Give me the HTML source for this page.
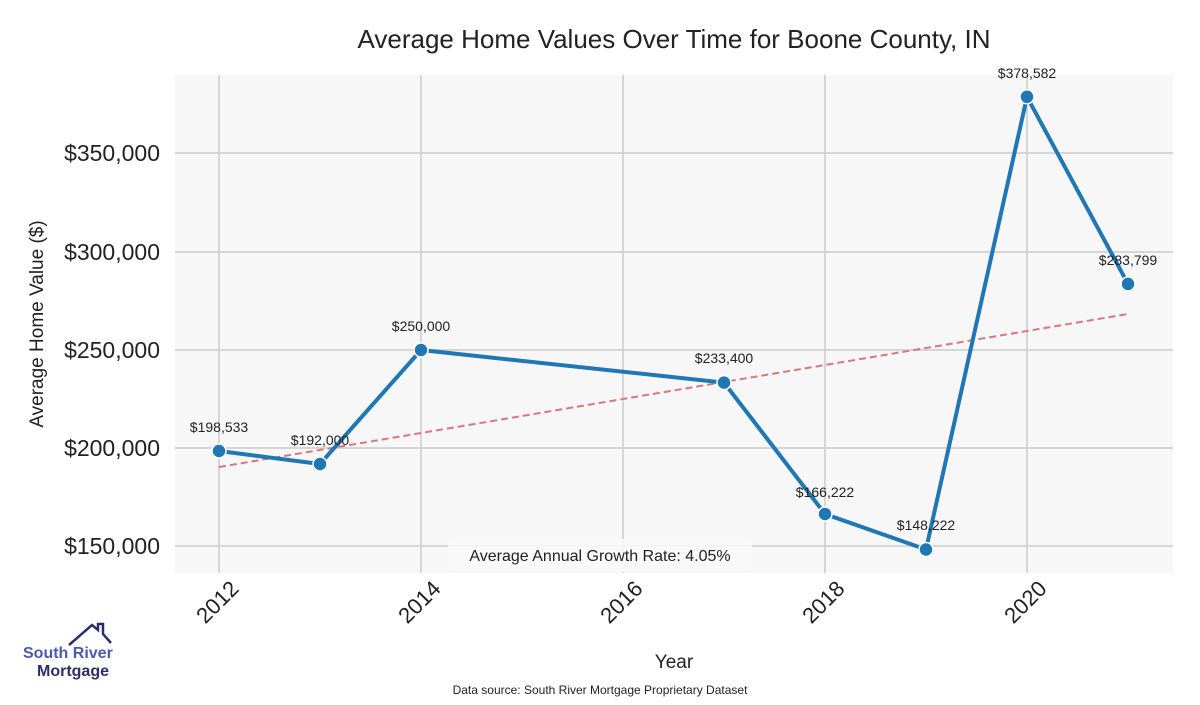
<!DOCTYPE html>
<html><head><meta charset="utf-8"><style>
body{margin:0;background:#fff;}
svg text{font-family:"Liberation Sans",sans-serif;}
</style></head><body>
<svg width="1200" height="700" viewBox="0 0 1200 700" xmlns="http://www.w3.org/2000/svg">
<rect width="1200" height="700" fill="#fff"/>
<rect x="175" y="75" width="998" height="498" fill="#f7f7f7"/>
<g stroke="#cccccc" stroke-width="1.5">
<line x1="219" y1="75" x2="219" y2="573"/><line x1="421" y1="75" x2="421" y2="573"/>
<line x1="623" y1="75" x2="623" y2="573"/><line x1="825" y1="75" x2="825" y2="573"/>
<line x1="1027" y1="75" x2="1027" y2="573"/>
<line x1="175" y1="153" x2="1173" y2="153"/><line x1="175" y1="252" x2="1173" y2="252"/>
<line x1="175" y1="350" x2="1173" y2="350"/><line x1="175" y1="448" x2="1173" y2="448"/>
<line x1="175" y1="546" x2="1173" y2="546"/>
</g>
<text x="674" y="48" font-size="26" text-anchor="middle" fill="#222">Average Home Values Over Time for Boone County, IN</text>
<g font-size="23" fill="#222" text-anchor="end">
<text x="160" y="161">$350,000</text><text x="160" y="260">$300,000</text>
<text x="160" y="358">$250,000</text><text x="160" y="456">$200,000</text>
<text x="160" y="554">$150,000</text>
</g>
<text transform="translate(43,324) rotate(-90)" font-size="19" fill="#222" text-anchor="middle">Average Home Value ($)</text>
<g font-size="22" fill="#222" text-anchor="end">
<text transform="translate(240,590) rotate(-45)">2012</text>
<text transform="translate(442,590) rotate(-45)">2014</text>
<text transform="translate(644,590) rotate(-45)">2016</text>
<text transform="translate(846,590) rotate(-45)">2018</text>
<text transform="translate(1048,590) rotate(-45)">2020</text>
</g>
<text x="674" y="668" font-size="19" fill="#222" text-anchor="middle">Year</text>
<text x="600" y="694" font-size="12" fill="#222" text-anchor="middle">Data source: South River Mortgage Proprietary Dataset</text>
<line x1="219" y1="467" x2="1128" y2="314" stroke="#d9777d" stroke-width="2" stroke-dasharray="7,4"/>
<polyline points="219,451 320,464 421,350 724,382.6 825,514 926,549.5 1027,96.8 1128,283.9" fill="none" stroke="#1f77b4" stroke-width="4"/>
<g fill="#1f77b4" stroke="#fff" stroke-width="1.5">
<circle cx="219" cy="451" r="7"/><circle cx="320" cy="464" r="7"/><circle cx="421" cy="350" r="7"/>
<circle cx="724" cy="382.6" r="7"/><circle cx="825" cy="514" r="7"/><circle cx="926" cy="549.5" r="7"/>
<circle cx="1027" cy="96.8" r="7"/><circle cx="1128" cy="283.9" r="7"/>
</g>
<g font-size="14" fill="#222" text-anchor="middle">
<text x="219" y="432">$198,533</text><text x="320" y="445">$192,000</text><text x="421" y="331">$250,000</text>
<text x="724" y="363">$233,400</text><text x="825" y="497">$166,222</text><text x="926" y="530">$148,222</text>
<text x="1027" y="78">$378,582</text><text x="1128" y="265">$283,799</text>
</g>
<rect x="448" y="539" width="304" height="33" rx="5" fill="#f8f8f8" fill-opacity="0.9"/>
<text x="600" y="561" font-size="16" fill="#222" text-anchor="middle">Average Annual Growth Rate: 4.05%</text>
<polyline points="69,645 92,625 98,630 98,624 103,624 103,634 111,643" fill="none" stroke="#2a2f6b" stroke-width="2.5"/>
<text x="23" y="658" font-size="16" font-weight="bold" fill="#4a5ab0">South River</text>
<text x="37" y="676" font-size="16" font-weight="bold" fill="#2a2f6b">Mortgage</text>
</svg>
</body></html>
